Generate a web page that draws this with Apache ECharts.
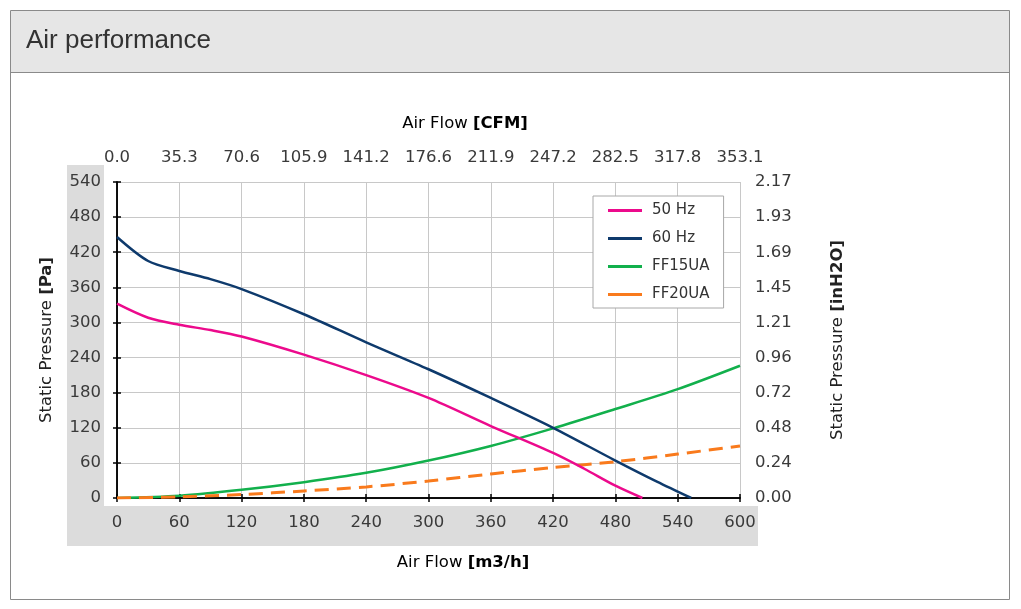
<!DOCTYPE html>
<html>
<head>
<meta charset="utf-8">
<script src="https://cdn.jsdelivr.net/npm/echarts@6/dist/echarts.min.js"></script>
<style>
html,body{margin:0;padding:0;background:#fff;}
#c{width:1021px;height:609px;}
</style>
</head>
<body>
<div id="c"></div>
<script>
// Data (Air flow m3/h, static pressure Pa)
const hz50 = [[0,332],[30,308],[60,296],[90,287],[120,276],[180,245],[240,210],[300,171],[360,123],[420,77],[450,50],[480,21],[506,0]];
const hz60 = [[0,446],[30,405],[60,388],[90,374],[120,357],[180,314],[240,266],[300,220],[360,171],[420,120],[480,64],[520,28],[553,0]];
const ff15ua = [[0,0],[60,4],[120,14],[180,27],[240,43],[300,64],[360,89],[420,119],[480,152],[540,186],[600,226]];
const ff20ua = [[0,0],[60,2],[120,6],[180,12],[240,19],[300,29],[360,41],[420,52],[480,62],[540,75],[600,89]];
const cfmLabels = ['0.0','35.3','70.6','105.9','141.2','176.6','211.9','247.2','282.5','317.8','353.1'];
const inH2OLabels = ['0.00','0.24','0.48','0.72','0.96','1.21','1.45','1.69','1.93','2.17'];

const FONT = '"Liberation Sans", Arial, sans-serif';
const FONT2 = '"DejaVu Sans", sans-serif';
const TXT = '#3a3a3a';
const TICKF = 16.5;

const chart = echarts.init(document.getElementById('c'), null, {renderer:'canvas'});

const axisLine = {show:true, lineStyle:{color:'#000', width:1.5}};
function xAx(pos, labels, inside, fmt){
  return {
    type:'value', position:pos, min:0, max:600, interval:60,
    axisLine: inside ? {show:false} : axisLine,
    axisTick: {show:true, inside:inside, length:4, lineStyle:{color:'#000', width:1.5}},
    axisLabel: labels ? {show:true, color:TXT, fontSize:TICKF, fontFamily:FONT2, margin:16, formatter:fmt} : {show:false},
    splitLine: {show: pos==='bottom' && !inside, lineStyle:{color:'#c8c8c8', width:1}}
  };
}
function yAx(pos, labels, inside, fmt, extra){
  return Object.assign({
    type:'value', position:pos, min:0, max:540, interval:60,
    axisLine: inside ? {show:false} : axisLine,
    axisTick: {show:true, inside:inside, length:4, lineStyle:{color:'#000', width:1.5}},
    axisLabel: labels ? {show:true, color:TXT, fontSize:TICKF, fontFamily:FONT2, margin:pos==='left'?16:15, formatter:fmt} : {show:false},
    splitLine: {show: pos==='left' && !inside, lineStyle:{color:'#c8c8c8', width:1}}
  }, extra||{});
}

const nameRich = {
  n:{fontSize:16.5, fontFamily:FONT2, color:'#222'},
  b:{fontSize:16.5, fontFamily:FONT2, color:'#222', fontWeight:'bold'}
};

const option = {
  animation:false,
  backgroundColor:'#fff',
  graphic:[
    {type:'rect', z:-10, shape:{x:10.5,y:10.5,width:999,height:589}, style:{fill:'#fff', stroke:'#8a8a8a', lineWidth:1}},
    {type:'rect', z:-9, shape:{x:11,y:11,width:998,height:61}, style:{fill:'#e6e6e6'}},
    {type:'line', z:-8, shape:{x1:10,y1:72.5,x2:1010,y2:72.5}, style:{stroke:'#8a8a8a', lineWidth:1}},
    {type:'text', z:5, x:26, y:41, style:{text:'Air performance', font:'26px '+FONT, fill:'#333', verticalAlign:'middle'}},
    {type:'rect', z:-7, shape:{x:67,y:165,width:37,height:341}, style:{fill:'#dcdcdc'}},
    {type:'rect', z:-7, shape:{x:67,y:506,width:691,height:40}, style:{fill:'#dcdcdc'}},
    {type:'text', z:5, x:465, y:124, style:{text:'{n|Air Flow }{b|[CFM]}', rich:nameRich, align:'center', verticalAlign:'middle'}},
    {type:'text', z:5, x:463, y:563, style:{text:'{n|Air Flow }{b|[m3/h]}', rich:nameRich, align:'center', verticalAlign:'middle'}}
  ],
  grid:{left:117, right:281, top:182, bottom:111, containLabel:false, backgroundColor:'#fff', show:true, borderWidth:0},
  legend:{
    orient:'vertical', left:593, top:196,
    backgroundColor:'#fff', borderColor:'#a8a8a8', borderWidth:1,
    padding:[7,14,6,15], itemGap:13, itemWidth:34, itemHeight:3, icon:'rect',
    textStyle:{fontSize:15, fontFamily:FONT2, color:'#333', padding:[0,0,0,5]},
    data:['50 Hz','60 Hz','FF15UA','FF20UA']
  },
  xAxis:[
    xAx('bottom', 'bottom', false, v=>String(v)),
    xAx('top', 'top', false, v=>cfmLabels[Math.round(v/60)]),
    xAx('bottom', null, true),
    xAx('top', null, true)
  ],
  yAxis:[
    yAx('left', true, false, v=>String(v), {
      name:'{n|Static Pressure }{b|[Pa]}', nameLocation:'middle', nameGap:62, nameRotate:90,
      nameTextStyle:{rich:nameRich}
    }),
    yAx('right', true, false, v=>inH2OLabels[Math.round(v/60)], {
      name:'{n|Static Pressure }{b|[inH2O]}', nameLocation:'middle', nameGap:89, nameRotate:90,
      nameTextStyle:{rich:nameRich}
    }),
    yAx('left', null, true),
    yAx('right', null, true)
  ],
  series:[
    {name:'50 Hz', type:'line', data:hz50, smooth:0.3, showSymbol:false, symbol:'none', color:'#ec0a8c', lineStyle:{width:2.5, color:'#ec0a8c'}, z:4},
    {name:'60 Hz', type:'line', data:hz60, smooth:0.3, showSymbol:false, symbol:'none', color:'#0e3a6c', lineStyle:{width:2.5, color:'#0e3a6c'}, z:4},
    {name:'FF15UA', type:'line', data:ff15ua, smooth:0.3, showSymbol:false, symbol:'none', color:'#12b04c', lineStyle:{width:2.5, color:'#12b04c'}, z:3},
    {name:'FF20UA', type:'line', data:ff20ua, smooth:0.3, showSymbol:false, symbol:'none', color:'#f97a1c', lineStyle:{width:3, color:'#f97a1c', type:[14,8]}, z:3}
  ]
};
chart.setOption(option);
</script>
</body>
</html>
